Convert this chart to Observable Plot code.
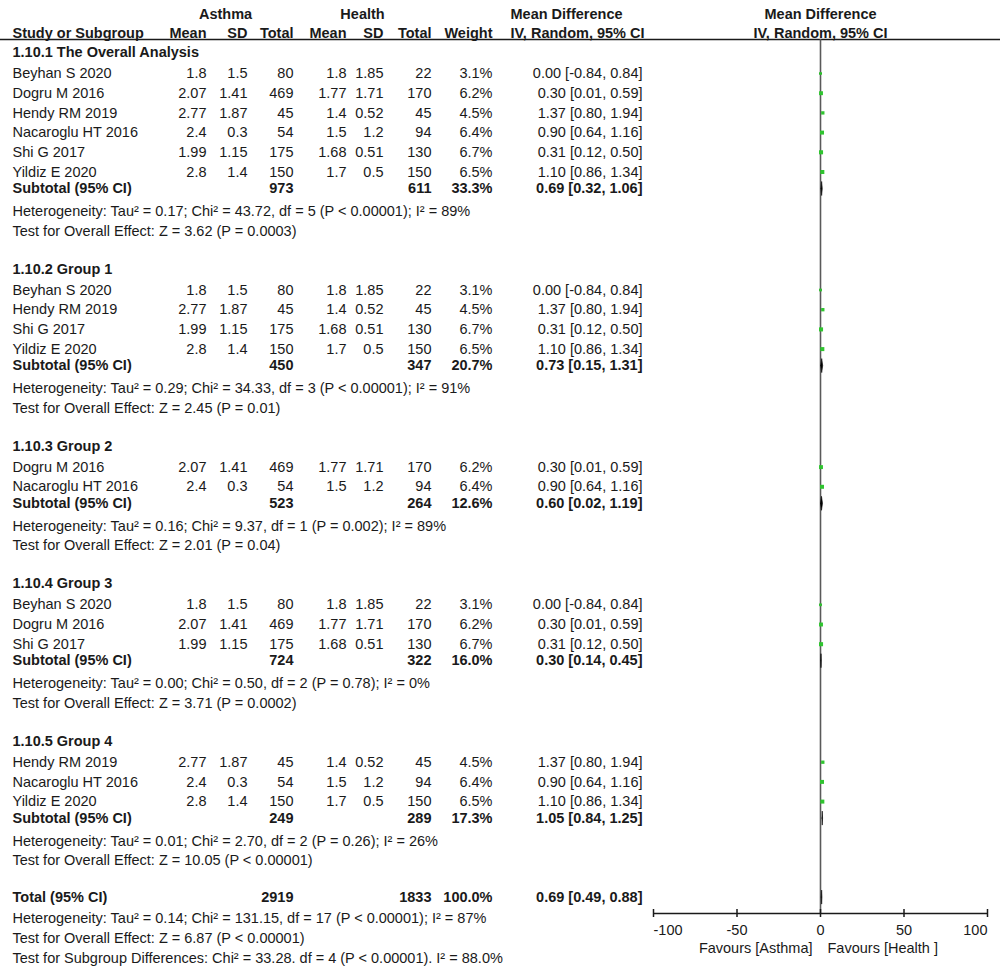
<!DOCTYPE html>
<html><head><meta charset="utf-8">
<script src="https://cdn.jsdelivr.net/npm/d3@7"></script>
<script src="https://cdn.jsdelivr.net/npm/@observablehq/plot@0.6"></script>
<style>body{margin:0;background:#fff;} #chart svg{display:block}</style>
</head><body><div id="chart"></div>
<script>
// ---------- DATA ----------
const groupTitles = ["1.10.1 The Overall Analysis", "1.10.2 Group 1", "1.10.3 Group 2", "1.10.4 Group 3", "1.10.5 Group 4"];
const studyNames = ["Beyhan S 2020", "Dogru M 2016", "Hendy RM 2019", "Nacaroglu HT 2016", "Shi G 2017", "Yildiz E 2020"];
const studyAsthmaMean = [1.8, 2.07, 2.77, 2.4, 1.99, 2.8];
const studyAsthmaSD = [1.5, 1.41, 1.87, 0.3, 1.15, 1.4];
const studyAsthmaN = [80, 469, 45, 54, 175, 150];
const studyHealthMean = [1.8, 1.77, 1.4, 1.5, 1.68, 1.7];
const studyHealthSD = [1.85, 1.71, 0.52, 1.2, 0.51, 0.5];
const studyHealthN = [22, 170, 45, 94, 130, 150];
const studyWeight = [3.1, 6.2, 4.5, 6.4, 6.7, 6.5];
const studyMD = [0.00, 0.30, 1.37, 0.90, 0.31, 1.10];
const studyLower = [-0.84, 0.01, 0.80, 0.64, 0.12, 0.86];
const studyUpper = [0.84, 0.59, 1.94, 1.16, 0.50, 1.34];
const groupMembers = [[0, 1, 2, 3, 4, 5], [0, 2, 4, 5], [1, 3], [0, 1, 4], [2, 3, 5]];

const subAsthmaN = [973, 450, 523, 724, 249];
const subHealthN = [611, 347, 264, 322, 289];
const subWeight = [33.3, 20.7, 12.6, 16.0, 17.3];
const subMD = [0.69, 0.73, 0.60, 0.30, 1.05];
const subLower = [0.32, 0.15, 0.02, 0.14, 0.84];
const subUpper = [1.06, 1.31, 1.19, 0.45, 1.25];
const subHeterogeneity = [
  "Heterogeneity: Tau² = 0.17; Chi² = 43.72, df = 5 (P < 0.00001); I² = 89%",
  "Heterogeneity: Tau² = 0.29; Chi² = 34.33, df = 3 (P < 0.00001); I² = 91%",
  "Heterogeneity: Tau² = 0.16; Chi² = 9.37, df = 1 (P = 0.002); I² = 89%",
  "Heterogeneity: Tau² = 0.00; Chi² = 0.50, df = 2 (P = 0.78); I² = 0%",
  "Heterogeneity: Tau² = 0.01; Chi² = 2.70, df = 2 (P = 0.26); I² = 26%"
];
const subOverallEffect = [
  "Test for Overall Effect: Z = 3.62 (P = 0.0003)",
  "Test for Overall Effect: Z = 2.45 (P = 0.01)",
  "Test for Overall Effect: Z = 2.01 (P = 0.04)",
  "Test for Overall Effect: Z = 3.71 (P = 0.0002)",
  "Test for Overall Effect: Z = 10.05 (P < 0.00001)"
];
const totalAsthmaN = 2919;
const totalHealthN = 1833;
const totalWeight = 100.0;
const totalMD = 0.69, totalLower = 0.49, totalUpper = 0.88;
const totalNotes = [
  "Heterogeneity: Tau² = 0.14; Chi² = 131.15, df = 17 (P < 0.00001); I² = 87%",
  "Test for Overall Effect: Z = 6.87 (P < 0.00001)",
  "Test for Subgroup Differences: Chi² = 33.28. df = 4 (P < 0.00001). I² = 88.0%"
];
const xTicks = [-100, -50, 0, 50, 100];
const favourLabels = ["Favours [Asthma]", "Favours [Health ]"];
const headerTop = {asthma: "Asthma", health: "Health", md: "Mean Difference"};
const headerCols = {study: "Study or Subgroup", aMean: "Mean", aSD: "SD", aN: "Total", hMean: "Mean", hSD: "SD", hN: "Total", weight: "Weight", ciHead: "IV, Random, 95% CI"};

// ---------- LAYOUT ----------
const W = 1000, H = 971;
const L = {head1: 14, head2: 33, rule: 39, first: 52, titleStudy: 21, step: 19.7, studySub: 16.5,
           subHet: 23, hetTest: 19.5, testTitle: 38, testTotal: 36.5, totalHet: 21, noteStep: 20,
           axis: 913, diamondHalf: 7};
const mL = 653, mR = 13;
const cols = {
  study: {x: 12, a: "start"}, aMean: {x: 206, a: "end"}, aSD: {x: 247, a: "end"}, aN: {x: 293, a: "end"},
  hMean: {x: 346, a: "end"}, hSD: {x: 383, a: "end"}, hN: {x: 431, a: "end"}, weight: {x: 492, a: "end"},
  ci: {x: 642, a: "end"}, ciHead: {x: 510, a: "start"}, asthmaHead: {x: 225, a: "middle"},
  healthHead: {x: 362, a: "middle"}
};
const f2 = v => v.toFixed(2);
const ciText = (m, lo, hi) => `${f2(m)} [${f2(lo)}, ${f2(hi)}]`;
const pct = v => v.toFixed(1) + "%";

const cells = [];
const studyRows = [];
const diamonds = [];
const add = (col, y, text, bold = false) => cells.push({col, y, text: String(text), bold});

// header
add("asthmaHead", L.head1, headerTop.asthma, true);
add("healthHead", L.head1, headerTop.health, true);
add("ciHead", L.head1, headerTop.md, true);
for (const [k, t] of Object.entries(headerCols)) add(k, L.head2, t, true);

let y = L.first;
groupTitles.forEach((title, g) => {
  add("study", y, title, true);
  y += L.titleStudy;
  groupMembers[g].forEach((i, k) => {
    if (k > 0) y += L.step;
    add("study", y, studyNames[i]);
    add("aMean", y, studyAsthmaMean[i]);
    add("aSD", y, studyAsthmaSD[i]);
    add("aN", y, studyAsthmaN[i]);
    add("hMean", y, studyHealthMean[i]);
    add("hSD", y, studyHealthSD[i]);
    add("hN", y, studyHealthN[i]);
    add("weight", y, pct(studyWeight[i]));
    add("ci", y, ciText(studyMD[i], studyLower[i], studyUpper[i]));
    studyRows.push({y, md: studyMD[i], lower: studyLower[i], upper: studyUpper[i], weight: studyWeight[i]});
  });
  y += L.studySub;
  add("study", y, "Subtotal (95% CI)", true);
  add("aN", y, subAsthmaN[g], true);
  add("hN", y, subHealthN[g], true);
  add("weight", y, pct(subWeight[g]), true);
  add("ci", y, ciText(subMD[g], subLower[g], subUpper[g]), true);
  diamonds.push({id: "g" + g, y, md: subMD[g], lower: subLower[g], upper: subUpper[g]});
  y += L.subHet;
  add("study", y, subHeterogeneity[g]);
  y += L.hetTest;
  add("study", y, subOverallEffect[g]);
  y += (g < groupTitles.length - 1) ? L.testTitle : L.testTotal;
});
add("study", y, "Total (95% CI)", true);
add("aN", y, totalAsthmaN, true);
add("hN", y, totalHealthN, true);
add("weight", y, pct(totalWeight), true);
add("ci", y, ciText(totalMD, totalLower, totalUpper), true);
diamonds.push({id: "total", y, md: totalMD, lower: totalLower, upper: totalUpper});
y += L.totalHet;
totalNotes.forEach((t, k) => { if (k > 0) y += L.noteStep; add("study", y, t); });

const diamondPts = diamonds.flatMap(d => [
  {id: d.id, x: d.lower, y: d.y},
  {id: d.id, x: d.md, y: d.y - L.diamondHalf},
  {id: d.id, x: d.upper, y: d.y},
  {id: d.id, x: d.md, y: d.y + L.diamondHalf},
  {id: d.id, x: d.lower, y: d.y}
]);

// ---------- MARKS ----------
const textMarks = [];
for (const [key, c] of Object.entries(cols)) {
  for (const bold of [false, true]) {
    const data = cells.filter(d => d.col === key && d.bold === bold);
    if (!data.length) continue;
    textMarks.push(Plot.text(data, {
      y: "y", text: "text", frameAnchor: "left", dx: c.x - mL,
      textAnchor: c.a, fontWeight: bold ? "bold" : "normal"
    }));
  }
}

const chart = Plot.plot({
  width: W, height: H,
  marginLeft: mL, marginRight: mR, marginTop: 0, marginBottom: H - L.axis,
  x: {domain: [-100, 100]},
  y: {domain: [0, H], range: [0, H], axis: null},
  r: {domain: [0, 6.7], range: [0, 2.3]},
  style: {fontFamily: "'Liberation Sans', Arial, sans-serif", fontSize: "14.5px", color: "#1a1a1a", background: "#fff"},
  marks: [
    Plot.ruleY([L.rule], {insetLeft: -mL, insetRight: -mR, stroke: "#1a1a1a", strokeWidth: 1.5}),
    Plot.ruleX([0], {y1: L.rule, y2: L.axis, stroke: "#5a5a5a", strokeWidth: 1.6}),
    Plot.ruleY([L.axis], {stroke: "#1a1a1a", strokeWidth: 1.5}),
    Plot.ruleX(xTicks, {y1: L.axis - 4, y2: L.axis + 4, stroke: "#1a1a1a", strokeWidth: 1.5}),
    Plot.axisX(xTicks.filter(t => t > -100 && t < 100), {anchor: "bottom", tickSize: 0, tickPadding: 11, label: null, tickFormat: d => String(d)}),
    Plot.axisX([xTicks[0]], {anchor: "bottom", tickSize: 0, tickPadding: 11, label: null, textAnchor: "start", tickFormat: d => String(d)}),
    Plot.axisX([xTicks[xTicks.length - 1]], {anchor: "bottom", tickSize: 0, tickPadding: 11, label: null, textAnchor: "end", tickFormat: d => String(d)}),
    Plot.text([favourLabels[0]], {x: 0, y: 948, dx: -8, textAnchor: "end"}),
    Plot.text([favourLabels[1]], {x: 0, y: 948, dx: 7, textAnchor: "start"}),
    Plot.text([headerTop.md], {x: 0, y: L.head1, fontWeight: "bold"}),
    Plot.text([headerCols.ciHead], {x: 0, y: L.head2, fontWeight: "bold"}),
    Plot.link(studyRows, {x1: "lower", x2: "upper", y1: "y", y2: "y", stroke: "#000", strokeWidth: 1}),
    Plot.dot(studyRows, {x: "md", y: "y", r: "weight", symbol: "square", fill: "#2fc42f", stroke: null}),
    Plot.line(diamondPts, {x: "x", y: "y", z: "id", fill: "#000", stroke: "#000", strokeWidth: 0.6}),
    ...textMarks
  ]
});
document.getElementById("chart").append(chart);
</script>
</body></html>
